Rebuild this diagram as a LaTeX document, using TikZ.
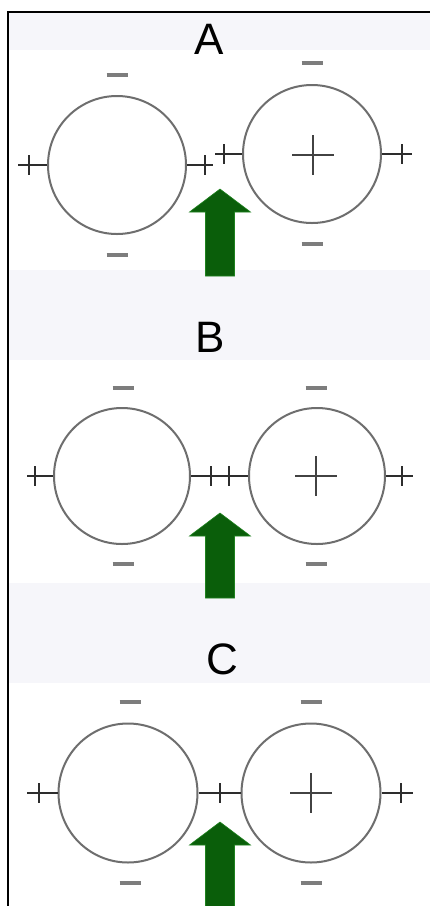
\documentclass[tikz,border=0pt]{standalone}
\usepackage{fontspec}
\setmainfont{Liberation Sans}
\definecolor{bandgray}{RGB}{246,246,250}
\definecolor{ballgray}{RGB}{110,110,110}
\definecolor{bondgray}{RGB}{45,45,45}
\definecolor{minusgray}{RGB}{125,125,125}
\definecolor{arrowgreen}{RGB}{10,94,10}
\definecolor{arrowedge}{RGB}{30,130,30}
% charge tick across a bond line
\newcommand{\chargetick}[2]{\draw[bond] (#1,#2-10) -- (#1,#2+10);}
% surface minus sign
\newcommand{\minussign}[2]{\draw[minus] (#1-10.5,#2) -- (#1+10.5,#2);}
% central plus sign inside a ball
\newcommand{\plussign}[2]{\draw[centerplus] (#1-21,#2) -- (#1+21,#2) (#1,#2-20) -- (#1,#2+20);}
% block arrow pointing up: x, tip y, bottom y
\newcommand{\grnarrow}[3]{\fill[arrowup] (#1-14.5,#3) -- (#1-14.5,#2+23) -- (#1-30.5,#2+23) -- (#1,#2) -- (#1+30.5,#2+23) -- (#1+14.5,#2+23) -- (#1+14.5,#3) -- cycle;}
\begin{document}
\begin{tikzpicture}[x=1pt,y=-1pt,
  ball/.style={circle, draw=ballgray, line width=2pt, minimum size=#1, inner sep=0pt, fill=white},
  bond/.style={draw=bondgray, line width=1.6pt},
  minus/.style={draw=minusgray, line width=3.2pt},
  centerplus/.style={draw=bondgray!90!white, line width=1.7pt},
  arrowup/.style={fill=arrowgreen, draw=arrowedge, line width=0.6pt},
  panellabel/.style={anchor=base, inner sep=0pt, font=\fontsize{44}{44}\selectfont}]
\useasboundingbox (0,0) rectangle (430,906);
\fill[white] (0,0) rectangle (430,906);

% background bands
\fill[bandgray] (8,12) rectangle (430,50);
\fill[bandgray] (8,270) rectangle (430,360);
\fill[bandgray] (8,583) rectangle (430,683);

% frame
\draw[black, line width=2pt] (8,906) -- (8,11.5) -- (430,11.5);

% ---------- panel A ----------
\node[panellabel] (labA) at (209,54) {A};
\node[ball=138pt] (aL) at (117,165) {};
\node[ball=138pt] (aR) at (312,154) {};
\coordinate (aLw) at (18,165);
\coordinate (aLe) at (213,165);
\coordinate (aRw) at (215,154);
\coordinate (aRe) at (412,154);
\draw[bond] (aLw) -- (aL.west);
\draw[bond] (aL.east) -- (aLe);
\draw[bond] (aRw) -- (aR.west);
\draw[bond] (aR.east) -- (aRe);
\chargetick{29}{165}
\chargetick{205}{165}
\chargetick{224}{154}
\chargetick{402}{154}
\plussign{313}{155}
\minussign{117}{75}
\minussign{117}{255}
\minussign{312}{63}
\minussign{312}{244}
\grnarrow{220}{189}{276}

% ---------- panel B ----------
\node[panellabel] (labB) at (210,352) {B};
\node[ball=136pt] (bL) at (122,476) {};
\node[ball=136pt] (bR) at (317,476) {};
\coordinate (bLw) at (27,476);
\coordinate (bRe) at (413,476);
\draw[bond] (bLw) -- (bL.west);
\draw[bond] (bL.east) -- (bR.west);
\draw[bond] (bR.east) -- (bRe);
\chargetick{35}{476}
\chargetick{211}{476}
\chargetick{229}{476}
\chargetick{402}{476}
\plussign{316}{476}
\minussign{123}{388}
\minussign{123}{564}
\minussign{316}{388}
\minussign{316}{564}
\grnarrow{220}{513}{598}

% ---------- panel C ----------
\node[panellabel] (labC) at (222,674) {C};
\node[ball=139pt] (cL) at (128,793) {};
\node[ball=139pt] (cR) at (311,793) {};
\coordinate (cLw) at (27,793);
\coordinate (cRe) at (413,793);
\draw[bond] (cLw) -- (cL.west);
\draw[bond] (cL.east) -- (cR.west);
\draw[bond] (cR.east) -- (cRe);
\chargetick{39}{793}
\chargetick{220}{793}
\chargetick{401}{793}
\plussign{311}{793}
\minussign{130}{702}
\minussign{130}{883}
\minussign{311}{702}
\minussign{311}{883}
\grnarrow{220}{822}{908}
\end{tikzpicture}
\end{document}
